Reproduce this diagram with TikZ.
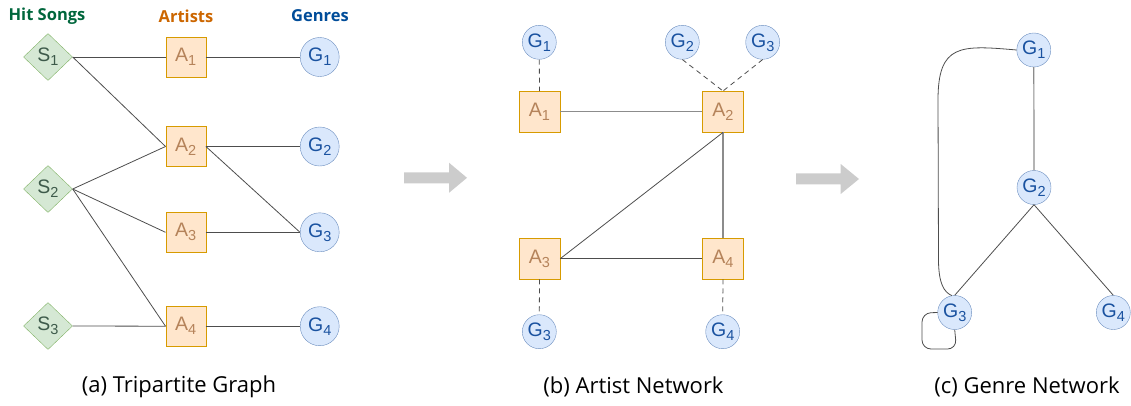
\documentclass[tikz,border=0pt]{standalone}
\usepackage{fontspec}
\setmainfont{Open Sans}
\newfontfamily\labelfont{Liberation Sans}
\usetikzlibrary{shapes.geometric}
\usetikzlibrary{positioning}

\definecolor{songfill}{HTML}{D5E8D4}
\definecolor{songdraw}{HTML}{82B366}
\definecolor{songtext}{HTML}{3D5A4A}
\definecolor{artistfill}{HTML}{FFE6CC}
\definecolor{artistdraw}{HTML}{D79B00}
\definecolor{artisttext}{HTML}{B5835A}
\definecolor{genrefill}{HTML}{DAE8FC}
\definecolor{genredraw}{HTML}{6C8EBF}
\definecolor{genretext}{HTML}{1A52A0}
\definecolor{edgegray}{HTML}{4D4D4D}
\definecolor{lightedge}{HTML}{8C8C8C}
\definecolor{blockgray}{HTML}{CCCCCC}

% subscript index at a fixed size
\newcommand{\lowidx}[1]{\raisebox{-4pt}{\fontsize{14.5}{14.5}\selectfont #1}}

\begin{document}
\begin{tikzpicture}[
    x=1pt, y=-1pt,
    song/.style={diamond, draw=songdraw, fill=songfill, text=songtext,
        minimum width=49pt, minimum height=47pt, inner sep=0pt,
        font=\labelfont\fontsize{19.5}{19.5}\selectfont},
    artist/.style={rectangle, draw=artistdraw, fill=artistfill, text=artisttext,
        minimum size=40pt, inner sep=0pt, font=\labelfont\fontsize{19.5}{19.5}\selectfont},
    genre/.style={circle, draw=genredraw, fill=genrefill, text=genretext,
        minimum size=39pt, inner sep=0pt, font=\labelfont\fontsize{19.5}{19.5}\selectfont},
    sgenre/.style={genre, minimum size=34pt},
    link/.style={draw=edgegray, line width=0.8pt},
    softlink/.style={draw=lightedge, line width=1.2pt},
    dlink/.style={draw=edgegray, line width=0.8pt, dash pattern=on 5pt off 4pt},
    head/.style={font=\bfseries\fontsize{16.5}{16.5}\selectfont},
    caption/.style={font=\fontsize{22}{22}\selectfont},
    blockarrow/.style={fill=blockgray}
]
\useasboundingbox (0,0) rectangle (1131,405);

% --- (a) Tripartite graph ---
\node[head, text={rgb,255:red,0;green,102;blue,60}] (hsong) at (47,16) {Hit Songs};
\node[head, text={rgb,255:red,204;green,102;blue,0}] (hart) at (186,16) {Artists};
\node[head, text={rgb,255:red,0;green,76;blue,153}] (hgen) at (320,16) {Genres};

\node[song] (s1) at (48,57) {S\lowidx{1}};
\node[song] (s2) at (48,189) {S\lowidx{2}};
\node[song] (s3) at (48,326) {S\lowidx{3}};

\foreach \i/\y in {1/57, 2/146.5, 3/232.3, 4/326.2}
{
    \node[artist] (a\i) at (185.7,\y) {A\lowidx{\i}};
    \node[genre] (g\i) at (319.7,\y) {G\lowidx{\i}};
}

\draw[link] (s1.east) -- (a1.west);
\draw[link] (s1.east) -- (a2.west);
\draw[link] (s2.east) -- (a2.west);
\draw[link] (s2.east) -- (a3.west);
\draw[link] (s2.east) -- (a4.west);
\draw[link] (s3.east) -- (a4.west);
\foreach \i in {1,...,4}
    \draw[link] (a\i.east) -- (g\i.west);
\draw[link] (a2.east) -- (g3.west);

\node[caption] (capa) at (179,387) {(a) Tripartite Graph};

% --- arrows between panels ---
\fill[blockarrow] (404,172.3) -- (449,172.3) -- (449,162.7) -- (467,177.8)
    -- (449,192.8) -- (449,183.3) -- (404,183.3) -- cycle;
\fill[blockarrow] (796,173.3) -- (840.7,173.3) -- (840.7,164) -- (859,179)
    -- (840.7,194) -- (840.7,184.3) -- (796,184.3) -- cycle;

% --- (b) Artist network ---
\node[artist, minimum size=41pt] (ba1) at (539.5,111.7) {A\lowidx{1}};
\node[artist, minimum size=41pt] (ba2) at (723,111.7) {A\lowidx{2}};
\node[artist, minimum size=41pt] (ba3) at (539.5,258.7) {A\lowidx{3}};
\node[artist, minimum size=41pt] (ba4) at (723,258.7) {A\lowidx{4}};

\node[sgenre] (bg1) at (539.3,42.3) {G\lowidx{1}};
\node[sgenre] (bg2) at (682.3,42.3) {G\lowidx{2}};
\node[sgenre] (bg3) at (762.7,42.3) {G\lowidx{3}};
\node[sgenre] (bgc) at (539.3,331.7) {G\lowidx{3}};
\node[sgenre] (bg4) at (722.7,331.7) {G\lowidx{4}};

\draw[dlink] (bg1.south) -- (ba1.north);
\draw[dlink] (bg2.south) -- (ba2.north);
\draw[dlink] (bg3.south) -- (ba2.north);
\draw[dlink] (ba3.south) -- (bgc.north);
\draw[dlink] (ba4.south) -- (bg4.north);

\draw[softlink] (ba1.east) -- (ba2.west);
\draw[softlink] (ba2.south) -- (ba4.north);
\draw[link] (ba2.south) -- (ba3.east);
\draw[link] (ba3.east) -- (ba4.west);

\node[caption] (capb) at (633.5,387) {(b) Artist Network};

% --- (c) Genre network ---
\node[sgenre] (cg1) at (1033.8,50) {G\lowidx{1}};
\node[sgenre] (cg2) at (1034,187.5) {G\lowidx{2}};
\node[sgenre] (cg3) at (954.7,312.5) {G\lowidx{3}};
\node[sgenre] (cg4) at (1113.3,312.5) {G\lowidx{4}};

\draw[softlink] (cg1.south) -- (cg2.north);
\draw[link] (cg2.south) -- (cg3.north);
\draw[link] (cg2.south) -- (cg4.north);
\draw[link] (cg1.west) .. controls (960,45) and (938,44) .. (938,100)
    -- (938.5,262) .. controls (939,284) and (944,292) .. (cg3.100);
\draw[link, rounded corners=9pt] (cg3.west) -- (922,313) -- (922,349)
    -- (956.5,349) -- (cg3.south);

\node[caption] (capc) at (1027,387) {(c) Genre Network};

\end{tikzpicture}
\end{document}
